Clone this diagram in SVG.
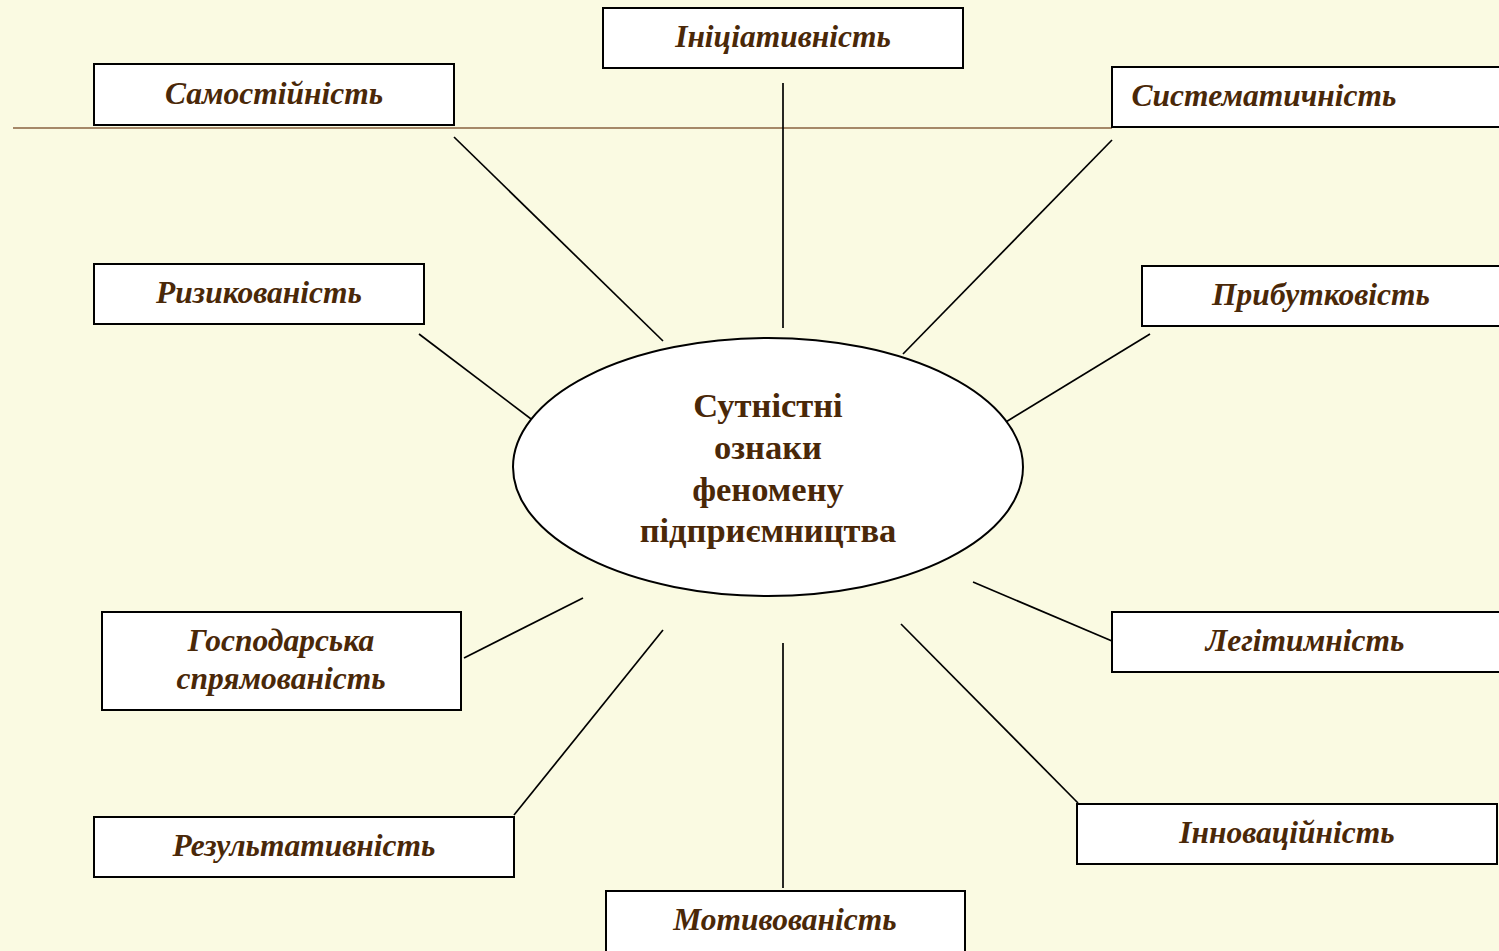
<svg xmlns="http://www.w3.org/2000/svg" width="1499" height="951" viewBox="0 0 1499 951">
<style>
.box{fill:#ffffff;stroke:#000000;stroke-width:2}
.lbl{font-family:"Liberation Serif","Times New Roman",serif;font-size:31.5px;font-weight:bold;font-style:italic;fill:#4a2808;text-anchor:middle}
.ctr{font-family:"Liberation Serif","Times New Roman",serif;font-size:34.5px;font-weight:bold;fill:#4a2808;text-anchor:middle}
.con line{stroke:#000000;stroke-width:1.7}
</style>
<rect x="0" y="0" width="1499" height="951" fill="#fafae2"/>
<line x1="13" y1="128" x2="1112" y2="128" stroke="#a58868" stroke-width="2"/>
<g id="connectors" class="con">
<line x1="454" y1="137" x2="663" y2="341"/>
<line x1="783" y1="83" x2="783" y2="328"/>
<line x1="1112" y1="140" x2="903" y2="354"/>
<line x1="419" y1="334" x2="539" y2="425"/>
<line x1="1150" y1="334" x2="1001" y2="425"/>
<line x1="583" y1="598" x2="464" y2="658"/>
<line x1="663" y1="630" x2="514" y2="815"/>
<line x1="783" y1="643" x2="783" y2="888"/>
<line x1="973" y1="582" x2="1112" y2="641"/>
<line x1="901" y1="624" x2="1078" y2="803"/>
</g>
<g id="center">
<ellipse cx="768" cy="467" rx="255" ry="129" fill="#ffffff" stroke="#000000" stroke-width="2"/>
<text class="ctr" x="768" y="417">Сутністні</text>
<text class="ctr" x="768" y="459">ознаки</text>
<text class="ctr" x="768" y="501">феномену</text>
<text class="ctr" x="768" y="542">підприємництва</text>
</g>
<g id="samostiinist"><rect class="box" x="94" y="64" width="360" height="61"/><text class="lbl" x="274" y="104">Самостійність</text></g>
<g id="initsiatyvnist"><rect class="box" x="603" y="8" width="360" height="60"/><text class="lbl" x="783" y="47">Ініціативність</text></g>
<g id="systematychnist"><rect class="box" x="1112" y="67" width="392" height="60"/><text class="lbl" x="1264" y="106">Систематичність</text></g>
<g id="ryzykovanist"><rect class="box" x="94" y="264" width="330" height="60"/><text class="lbl" x="259" y="303">Ризикованість</text></g>
<g id="prybutkovist"><rect class="box" x="1142" y="266" width="362" height="60"/><text class="lbl" x="1321" y="305">Прибутковість</text></g>
<g id="hospodarska"><rect class="box" x="102" y="612" width="359" height="98"/><text class="lbl" x="281" y="651">Господарська</text><text class="lbl" x="281" y="689">спрямованість</text></g>
<g id="lehitymnist"><rect class="box" x="1112" y="612" width="392" height="60"/><text class="lbl" x="1305" y="651">Легітимність</text></g>
<g id="rezultatyvnist"><rect class="box" x="94" y="817" width="420" height="60"/><text class="lbl" x="304" y="856">Результативність</text></g>
<g id="innovatsiinist"><rect class="box" x="1077" y="804" width="420" height="60"/><text class="lbl" x="1287" y="843">Інноваційність</text></g>
<g id="motyvovanist"><rect class="box" x="606" y="891" width="359" height="62"/><text class="lbl" x="785" y="930">Мотивованість</text></g>
</svg>
